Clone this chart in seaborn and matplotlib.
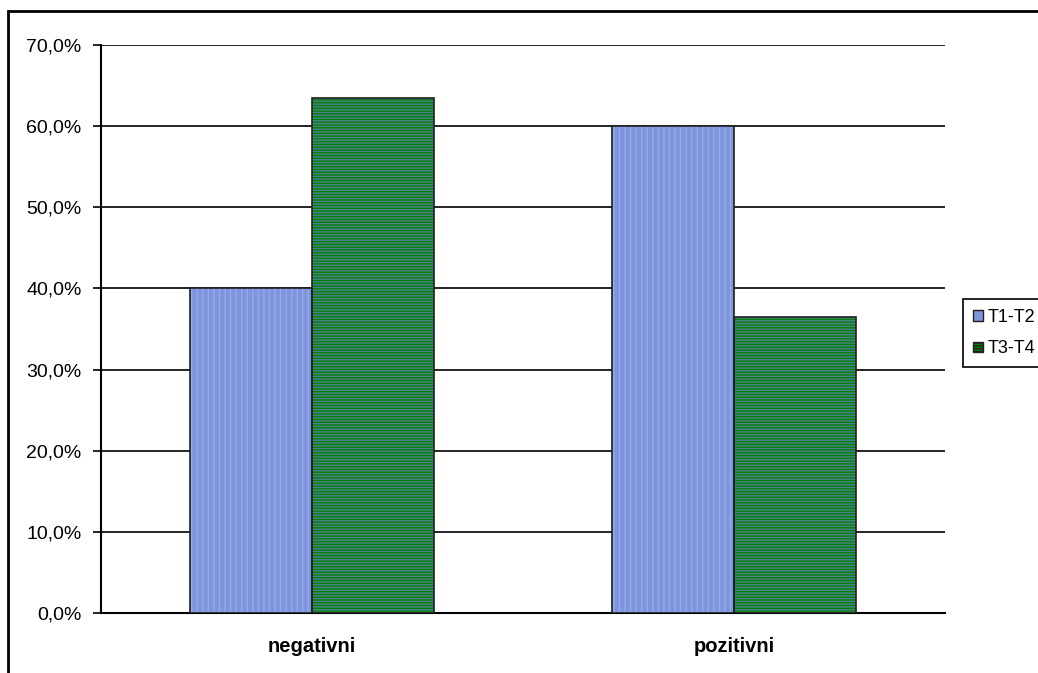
import pandas as pd
import matplotlib
matplotlib.use('Agg')
import matplotlib.pyplot as plt
import seaborn as sns
from matplotlib.patches import Rectangle, Patch
from matplotlib.ticker import FuncFormatter

# data
categories = ['negativni', 'pozitivni']
series = ['T1-T2', 'T3-T4']
t1_t2 = [40.0, 60.0]
t3_t4 = [63.5, 36.5]

face_colors = {'T1-T2': '#7F95DA', 'T3-T4': '#008000'}
stripe_colors = {'T1-T2': '#95A8F0', 'T3-T4': '#4F8090'}
hatches = {'T1-T2': '|||', 'T3-T4': '------'}

df = pd.DataFrame({
    'kategorija': categories * 2,
    'serija': [series[0]] * len(categories) + [series[1]] * len(categories),
    'udio': t1_t2 + t3_t4,
})

sns.set_style('white')
plt.rcParams['font.family'] = ['Liberation Sans', 'DejaVu Sans']
plt.rcParams['hatch.linewidth'] = 1.0
plt.rcParams['text.color'] = 'black'
plt.rcParams['xtick.color'] = 'black'
plt.rcParams['ytick.color'] = 'black'
plt.rcParams['xtick.labelcolor'] = 'black'
plt.rcParams['ytick.labelcolor'] = 'black'

fig = plt.figure(figsize=(10.38, 6.73), dpi=100)
ax = fig.add_axes([101 / 1038, 1 - 613 / 673, (945 - 101) / 1038, (613 - 45) / 673])

sns.barplot(data=df, x='kategorija', y='udio', hue='serija', hue_order=series,
            palette=face_colors, width=0.578, gap=0, legend=False, ax=ax, zorder=3)

# stripes and black outlines
bars = [p for p in ax.patches if isinstance(p, Rectangle)]
for i, p in enumerate(bars):
    s = series[i // len(categories)]
    p.set_facecolor(face_colors[s])
    p.set_hatch(hatches[s])
    p.set_edgecolor(stripe_colors[s])
    p.set_linewidth(0)
    ax.add_patch(Rectangle(p.get_xy(), p.get_width(), p.get_height(), fill=False,
                           edgecolor='#202020', linewidth=1.2, zorder=4))

ax.set_ylim(0, 70)
ax.set_yticks(range(0, 71, 10))
ax.yaxis.set_major_formatter(FuncFormatter(lambda v, _: f'{v:.1f}%'.replace('.', ',')))
ax.set_xlim(-0.5, 1.5)
ax.set_xticks([0, 1])
ax.set_xticklabels(categories, fontweight='bold')
ax.set_xticks([-0.5, 0.5, 1.5], minor=True)
ax.tick_params(axis='x', which='major', length=0, labelsize=14.5, pad=17)
ax.tick_params(axis='x', which='minor', length=6, width=1.2, direction='out', color='black')
ax.tick_params(axis='y', which='major', length=6, width=1.2, direction='out', color='black',
               labelsize=14, pad=8, left=True)
ax.set_xlabel('')
ax.set_ylabel('')

ax.grid(axis='y', color='black', linewidth=1.2, zorder=0)
ax.set_axisbelow(True)
for side in ['top', 'right']:
    ax.spines[side].set_visible(False)
for side in ['left', 'bottom']:
    ax.spines[side].set_color('black')
    ax.spines[side].set_linewidth(1.5)

handles = [Patch(facecolor=face_colors['T1-T2'], edgecolor='#202020', label='T1-T2'),
           Patch(facecolor=face_colors['T3-T4'], edgecolor='#202020', hatch=hatches['T3-T4'], label='T3-T4')]
leg = fig.legend(handles=handles, loc='upper left', bbox_to_anchor=(963 / 1038, 1 - 299 / 673),
                 frameon=True, fancybox=False, framealpha=1, edgecolor='black',
                 fontsize=13, handlelength=0.55, handleheight=0.55, handletextpad=0.25,
                 labelspacing=0.8, borderpad=0.55, borderaxespad=0)
leg.get_frame().set_linewidth(1.2)

# outer chart-area frame
fig.patches.append(Rectangle((8 / 1038, -0.1), 1.2, 1 - 11 / 673 + 0.1, transform=fig.transFigure,
                             fill=False, edgecolor='black', linewidth=2, zorder=0))

fig.savefig('out.png', dpi=100)
